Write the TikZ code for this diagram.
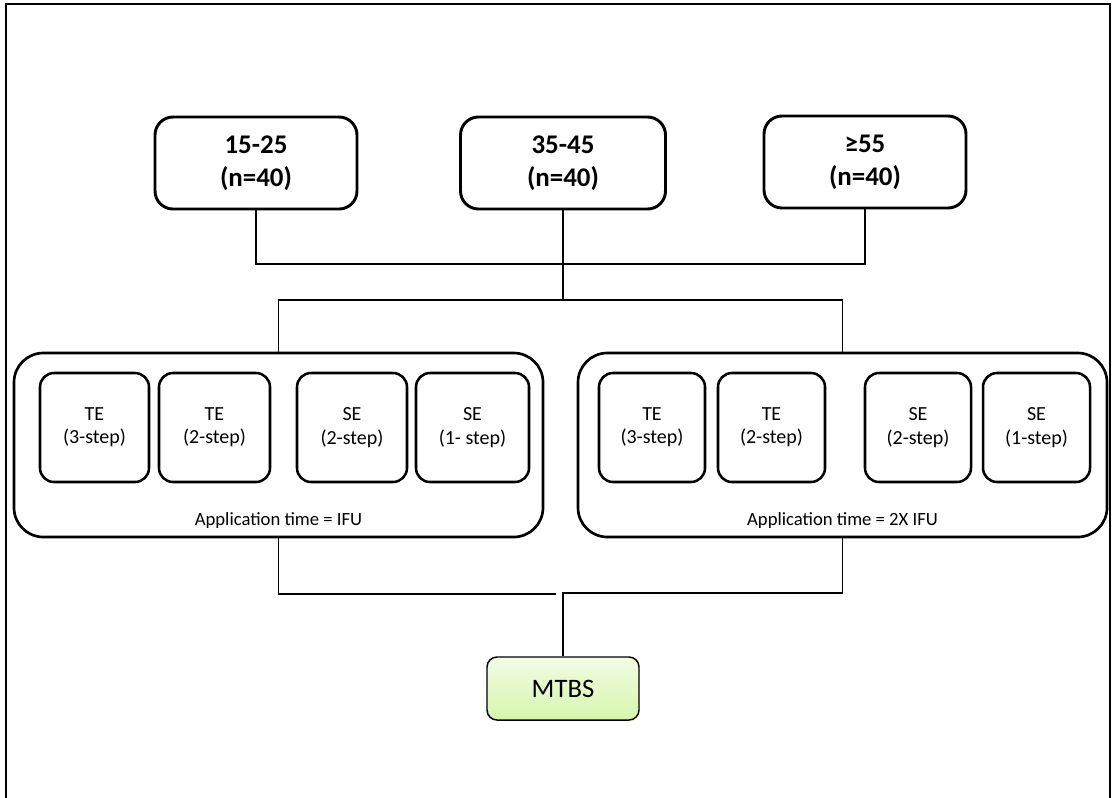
\documentclass[tikz,border=0pt]{standalone}
\usepackage{fontspec}
\setmainfont{Carlito}
\usetikzlibrary{calc}
\begin{document}
\begin{tikzpicture}[x=0.75pt,y=-0.75pt,
  agebox/.style={draw, line width=2.2pt, rounded corners=13.5pt, inner sep=0pt, align=center,
    font=\fontsize{20.2}{24.5}\selectfont\bfseries},
  groupbox/.style={draw, line width=2pt, rounded corners=22pt, inner sep=0pt},
  armbox/.style={draw, line width=1.9pt, rounded corners=10.5pt, inner sep=0pt, align=center,
    font=\fontsize{15}{17.5}\selectfont},
  apptext/.style={font=\fontsize{14}{17}\selectfont, inner sep=0pt},
  endbox/.style={draw, line width=1.1pt, rounded corners=7.5pt, inner sep=0pt,
    top color={rgb,255:red,242;green,252;blue,228}, bottom color={rgb,255:red,214;green,245;blue,172},
    font=\fontsize{20}{24}\selectfont},
  link/.style={line width=1pt}
]
\useasboundingbox (0,0) rectangle (1112,797);
\draw[line width=1.6pt] (6,804) -- (6,4) -- (1110,4) -- (1110,804);

% age groups
\node[agebox, minimum width=202*0.75pt, minimum height=92*0.75pt] (b1) at (256,163) {15-25\\(n=40)};
\node[agebox, minimum width=205*0.75pt, minimum height=92*0.75pt] (b2) at (563,163) {35-45\\(n=40)};
\node[agebox, minimum width=202*0.75pt, minimum height=92*0.75pt] (b3) at (865,162) {≥55\\(n=40)};

% group boxes
\node[groupbox, minimum width=529*0.75pt, minimum height=184*0.75pt] (L) at (278.5,445) {};
\node[groupbox, minimum width=529*0.75pt, minimum height=184*0.75pt] (R) at (842.5,445) {};

% arm boxes left
\node[armbox, minimum width=109*0.75pt, minimum height=109*0.75pt] (l1) at (94.5,427.5) {TE\\(3-step)};
\node[armbox, minimum width=111*0.75pt, minimum height=109*0.75pt] (l2) at (214.5,427.5) {TE\\(2-step)};
\node[armbox, minimum width=110*0.75pt, minimum height=109*0.75pt] (l3) at (352,427.5) {SE\\(2-step)};
\node[armbox, minimum width=113*0.75pt, minimum height=109*0.75pt] (l4) at (472.5,427.5) {SE\\(1- step)};
\node[apptext] (lt) at (278.5,521) {Application time = IFU};

% arm boxes right
\node[armbox, minimum width=106*0.75pt, minimum height=109*0.75pt] (r1) at (652,427.5) {TE\\(3-step)};
\node[armbox, minimum width=107*0.75pt, minimum height=109*0.75pt] (r2) at (771.5,427.5) {TE\\(2-step)};
\node[armbox, minimum width=106*0.75pt, minimum height=109*0.75pt] (r3) at (918,427.5) {SE\\(2-step)};
\node[armbox, minimum width=107*0.75pt, minimum height=109*0.75pt] (r4) at (1036.5,427.5) {SE\\(1-step)};
\node[apptext] (rt) at (842.5,521) {Application time = 2X IFU};

% final
\node[endbox, minimum width=152*0.75pt, minimum height=63*0.75pt] (m) at (563,688.5) {MTBS};

% connectors
\coordinate (j1) at (563,264);
\coordinate (j2) at (563,300);
\coordinate (j3) at (556,594);
\coordinate (j4) at (563,593);
\draw[link] (b1.south) |- (j1) -| (b3.south);
\draw[link] (b2.south) -- (j2);
\draw[link] (L.north) |- (j2) -| (R.north);
\draw[link] (L.south) |- (j3);
\draw[link] (R.south) |- (j4) -- (m.north);
\end{tikzpicture}
\end{document}
